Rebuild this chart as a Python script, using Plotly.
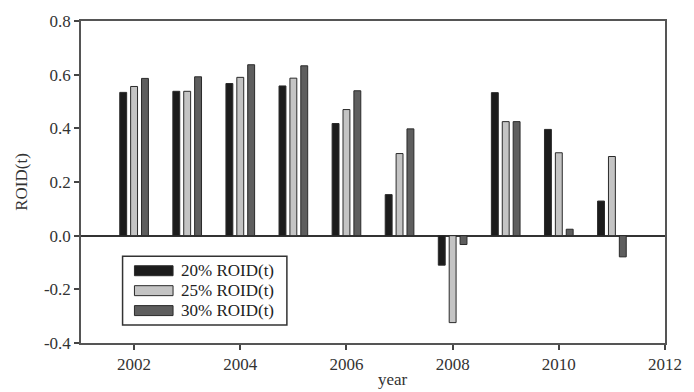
import plotly.graph_objects as go

years = [2002, 2003, 2004, 2005, 2006, 2007, 2008, 2009, 2010, 2011]
roid20 = [0.534, 0.538, 0.567, 0.558, 0.418, 0.153, -0.110, 0.533, 0.396, 0.129]
roid25 = [0.556, 0.538, 0.590, 0.587, 0.470, 0.306, -0.324, 0.425, 0.309, 0.295]
roid30 = [0.586, 0.592, 0.637, 0.633, 0.540, 0.398, -0.033, 0.425, 0.024, -0.079]
names = ["20% ROID(t)", "25% ROID(t)", "30% ROID(t)"]
colors = ["#1c1c1c", "#c4c4c4", "#5e5e5e"]

FONT = "Liberation Serif"
W, H = 694, 392
ML, MR, MT, MB = 81, 23, 20, 49
PW, PH = W - ML - MR, H - MT - MB

def px(x):
    return (x - ML) / PW

def py(y):
    return (H - MB - y) / PH

fig = go.Figure()
for name, vals, col in zip(names, [roid20, roid25, roid30], colors):
    fig.add_trace(go.Bar(x=years, y=vals, name=name, showlegend=False,
                         marker=dict(color=col, line=dict(color="#2a2a2a", width=1))))

# custom legend (wide swatches like the original)
shapes = [dict(type="rect", xref="paper", yref="paper", x0=px(123), x1=px(289),
               y0=py(325), y1=py(256), line=dict(color="#333", width=1.5),
               fillcolor="white", layer="above")]
annotations = []
row_centers = [270.5, 290.5, 310.5]
for name, col, yc in zip(names, colors, row_centers):
    shapes.append(dict(type="rect", xref="paper", yref="paper", x0=px(135), x1=px(174),
                       y0=py(yc + 5), y1=py(yc - 5), line=dict(color="#2a2a2a", width=1),
                       fillcolor=col, layer="above"))
    annotations.append(dict(text=name, xref="paper", yref="paper", x=px(181), y=py(yc),
                            xanchor="left", yanchor="middle", showarrow=False,
                            borderpad=0,
                            font=dict(family=FONT, size=17, color="#222")))

annotations.append(dict(text="year", xref="paper", yref="paper", x=0.535, y=-0.149,
                        xanchor="center", yanchor="bottom", showarrow=False,
                        font=dict(family=FONT, size=17, color="#333")))

fig.update_layout(
    width=W, height=H,
    margin=dict(l=ML, r=MR, t=MT, b=MB),
    paper_bgcolor="white", plot_bgcolor="white",
    barmode="group", bargap=0.385, bargroupgap=0.366,
    font=dict(family=FONT, size=17, color="#333"),
    showlegend=False,
    xaxis=dict(range=[2001, 2012], tickvals=[2002, 2004, 2006, 2008, 2010, 2012],
               ticks="outside", ticklen=5, tickwidth=1.5, tickcolor="#444",
               showline=True, linecolor="#555", linewidth=1.5, mirror=True,
               showgrid=False, zeroline=False, tickfont=dict(size=17)),
    yaxis=dict(range=[-0.4, 0.8], tickvals=[-0.4, -0.2, 0.0, 0.2, 0.4, 0.6, 0.8],
               ticktext=["-0.4", "-0.2", "0.0", "0.2", "0.4", "0.6", "0.8"],
               ticks="outside", ticklen=5, tickwidth=1.5, tickcolor="#444",
               showline=True, linecolor="#555", linewidth=1.5, mirror=True,
               showgrid=False, zeroline=True, zerolinecolor="#333", zerolinewidth=1.5,
               title=dict(text="ROID(t)", font=dict(size=17), standoff=12),
               tickfont=dict(size=17)),
    shapes=shapes,
    annotations=annotations,
)
fig.write_html("out.html")
